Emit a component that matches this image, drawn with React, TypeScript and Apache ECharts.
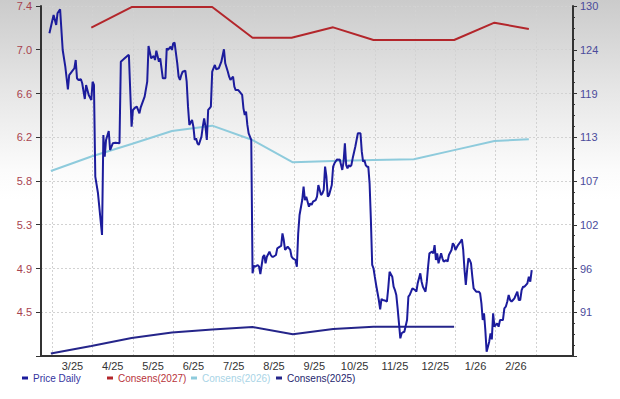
import React, { useEffect, useRef } from "react";
import * as echarts from "echarts";

// ---------- data ----------
const monthLabels = ["3/25", "4/25", "5/25", "6/25", "7/25", "8/25", "9/25", "10/25", "11/25", "12/25", "1/26", "2/26"];
const leftTickLabels = ["", "4.5", "4.9", "5.3", "5.8", "6.2", "6.6", "7.0", "7.4"];
const rightTickLabels = ["", "91", "96", "102", "107", "113", "119", "124", "130"];

const priceDaily: [string, number][] = [
  ["2025-02-27", 126.52], ["2025-03-02", 128.85], ["2025-03-04", 127.58], ["2025-03-05", 129.07], ["2025-03-07", 129.58],
  ["2025-03-09", 124.4], ["2025-03-11", 122.27], ["2025-03-13", 119.39], ["2025-03-14", 121.21], ["2025-03-16", 121.63],
  ["2025-03-18", 122.07], ["2025-03-19", 123.12], ["2025-03-20", 120.79], ["2025-03-21", 120.58], ["2025-03-23", 120.67],
  ["2025-03-24", 120.16], ["2025-03-26", 118.16], ["2025-03-27", 119.94], ["2025-03-28", 119.3], ["2025-03-29", 118.67],
  ["2025-03-31", 118.03], ["2025-04-01", 120.36], ["2025-04-02", 119.94], ["2025-04-03", 108.26], ["2025-04-05", 106.15],
  ["2025-04-08", 100.84], ["2025-04-09", 113.57], ["2025-04-10", 110.81], ["2025-04-11", 112.94], ["2025-04-13", 114.08],
  ["2025-04-14", 111.66], ["2025-04-16", 112.52], ["2025-04-18", 112.59], ["2025-04-21", 112.52], ["2025-04-22", 122.91],
  ["2025-04-24", 123.21], ["2025-04-27", 123.67], ["2025-04-28", 123.76], ["2025-04-30", 114.63], ["2025-05-01", 116.76],
  ["2025-05-03", 117.1], ["2025-05-04", 117.18], ["2025-05-06", 116.34], ["2025-05-07", 117.1], ["2025-05-10", 118.45],
  ["2025-05-12", 120.36], ["2025-05-13", 124.91], ["2025-05-15", 123.34], ["2025-05-17", 123.63], ["2025-05-18", 123.12],
  ["2025-05-19", 124.31], ["2025-05-21", 122.91], ["2025-05-22", 123.34], ["2025-05-24", 120.79], ["2025-05-26", 120.79],
  ["2025-05-27", 124.61], ["2025-05-28", 124.4], ["2025-05-30", 124.82], ["2025-05-31", 124.4], ["2025-06-01", 125.25],
  ["2025-06-02", 125.33], ["2025-06-04", 122.7], ["2025-06-05", 121.0], ["2025-06-06", 120.58], ["2025-06-07", 121.21],
  ["2025-06-08", 121.63], ["2025-06-10", 121.76], ["2025-06-11", 120.36], ["2025-06-12", 117.18], ["2025-06-13", 114.85],
  ["2025-06-15", 115.48], ["2025-06-16", 114.63], ["2025-06-17", 112.94], ["2025-06-18", 113.15], ["2025-06-19", 112.52],
  ["2025-06-20", 112.3], ["2025-06-22", 113.36], ["2025-06-23", 114.63], ["2025-06-24", 115.7], ["2025-06-25", 114.63],
  ["2025-06-26", 112.94], ["2025-06-27", 116.76], ["2025-06-28", 116.97], ["2025-06-29", 117.18], ["2025-06-30", 121.63],
  ["2025-07-02", 122.49], ["2025-07-03", 121.94], ["2025-07-05", 122.07], ["2025-07-07", 122.91], ["2025-07-09", 124.49],
  ["2025-07-10", 122.7], ["2025-07-12", 121.63], ["2025-07-13", 121.0], ["2025-07-14", 120.58], ["2025-07-16", 121.0],
  ["2025-07-17", 119.72], ["2025-07-18", 119.3], ["2025-07-20", 119.3], ["2025-07-21", 119.09], ["2025-07-23", 118.67],
  ["2025-07-24", 116.97], ["2025-07-25", 116.12], ["2025-07-26", 116.54], ["2025-07-27", 114.85], ["2025-07-28", 113.79],
  ["2025-07-30", 112.94], ["2025-07-31", 95.96], ["2025-08-01", 96.93], ["2025-08-02", 96.8], ["2025-08-04", 97.02],
  ["2025-08-05", 96.8], ["2025-08-06", 95.87], ["2025-08-08", 98.07], ["2025-08-09", 98.29], ["2025-08-10", 97.23],
  ["2025-08-11", 98.07], ["2025-08-13", 98.71], ["2025-08-14", 98.29], ["2025-08-15", 98.07], ["2025-08-16", 98.07],
  ["2025-08-18", 98.29], ["2025-08-19", 99.14], ["2025-08-21", 99.35], ["2025-08-22", 99.44], ["2025-08-23", 101.05],
  ["2025-08-24", 100.2], ["2025-08-25", 98.93], ["2025-08-26", 99.14], ["2025-08-27", 99.35], ["2025-08-29", 98.93],
  ["2025-08-30", 98.07], ["2025-08-31", 97.87], ["2025-09-02", 97.65], ["2025-09-03", 96.8], ["2025-09-04", 101.05],
  ["2025-09-05", 103.38], ["2025-09-07", 105.29], ["2025-09-08", 106.99], ["2025-09-09", 105.29], ["2025-09-10", 105.71],
  ["2025-09-12", 104.44], ["2025-09-13", 104.87], ["2025-09-14", 104.66], ["2025-09-15", 105.08], ["2025-09-17", 105.29],
  ["2025-09-18", 105.71], ["2025-09-19", 107.2], ["2025-09-20", 106.57], ["2025-09-21", 105.93], ["2025-09-22", 106.15],
  ["2025-09-23", 106.57], ["2025-09-24", 109.54], ["2025-09-25", 108.26], ["2025-09-26", 105.71], ["2025-09-27", 105.93],
  ["2025-09-28", 106.57], ["2025-09-29", 107.2], ["2025-09-30", 109.54], ["2025-10-01", 109.97], ["2025-10-03", 110.48],
  ["2025-10-04", 110.39], ["2025-10-05", 110.48], ["2025-10-07", 109.12], ["2025-10-08", 110.17], ["2025-10-09", 112.52],
  ["2025-10-10", 109.75], ["2025-10-11", 109.33], ["2025-10-12", 109.75], ["2025-10-13", 109.54], ["2025-10-14", 109.75],
  ["2025-10-15", 110.6], ["2025-10-17", 112.08], ["2025-10-18", 112.94], ["2025-10-19", 113.79], ["2025-10-21", 113.79],
  ["2025-10-22", 111.45], ["2025-10-23", 110.17], ["2025-10-24", 110.39], ["2025-10-25", 109.75], ["2025-10-26", 109.54],
  ["2025-10-27", 109.54], ["2025-10-28", 107.42], ["2025-10-29", 102.75], ["2025-10-30", 97.02], ["2025-10-31", 96.6],
  ["2025-11-01", 95.53], ["2025-11-02", 94.47], ["2025-11-04", 92.56], ["2025-11-05", 91.38], ["2025-11-06", 92.69],
  ["2025-11-07", 92.56], ["2025-11-09", 92.47], ["2025-11-10", 92.34], ["2025-11-11", 94.05], ["2025-11-12", 96.16],
  ["2025-11-14", 95.53], ["2025-11-15", 94.25], ["2025-11-16", 93.83], ["2025-11-17", 93.2], ["2025-11-18", 91.5],
  ["2025-11-19", 89.59], ["2025-11-20", 87.68], ["2025-11-21", 88.32], ["2025-11-22", 88.45], ["2025-11-23", 88.52],
  ["2025-11-25", 90.01], ["2025-11-26", 92.98], ["2025-11-27", 93.2], ["2025-11-28", 93.62], ["2025-11-29", 94.05],
  ["2025-12-01", 93.83], ["2025-12-02", 93.62], ["2025-12-03", 94.69], ["2025-12-05", 95.96], ["2025-12-06", 94.89],
  ["2025-12-07", 94.25], ["2025-12-09", 93.62], ["2025-12-10", 94.89], ["2025-12-11", 96.8], ["2025-12-12", 98.51],
  ["2025-12-14", 98.71], ["2025-12-15", 98.51], ["2025-12-16", 99.56], ["2025-12-17", 97.65], ["2025-12-18", 98.51],
  ["2025-12-19", 97.23], ["2025-12-21", 98.51], ["2025-12-22", 97.87], ["2025-12-23", 97.44], ["2025-12-25", 97.65],
  ["2025-12-26", 97.44], ["2025-12-27", 98.29], ["2025-12-29", 98.93], ["2025-12-30", 99.78], ["2025-12-31", 99.56],
  ["2026-01-01", 98.93], ["2026-01-03", 99.56], ["2026-01-05", 99.98], ["2026-01-06", 100.29], ["2026-01-07", 98.93],
  ["2026-01-08", 96.38], ["2026-01-09", 94.47], ["2026-01-10", 96.38], ["2026-01-11", 97.87], ["2026-01-12", 97.65],
  ["2026-01-13", 97.23], ["2026-01-14", 95.53], ["2026-01-15", 94.05], ["2026-01-17", 93.62], ["2026-01-19", 93.62],
  ["2026-01-20", 93.41], ["2026-01-21", 92.14], ["2026-01-22", 90.01], ["2026-01-23", 90.87], ["2026-01-24", 88.74],
  ["2026-01-25", 85.98], ["2026-01-26", 86.61], ["2026-01-27", 87.25], ["2026-01-28", 88.32], ["2026-01-29", 87.55],
  ["2026-01-30", 90.87], ["2026-01-31", 89.16], ["2026-02-01", 89.38], ["2026-02-02", 89.59], ["2026-02-03", 89.16],
  ["2026-02-04", 90.01], ["2026-02-06", 90.01], ["2026-02-07", 91.5], ["2026-02-08", 91.71], ["2026-02-09", 92.34],
  ["2026-02-10", 93.2], ["2026-02-11", 92.56], ["2026-02-12", 92.34], ["2026-02-13", 92.56], ["2026-02-14", 92.78],
  ["2026-02-16", 93.62], ["2026-02-17", 92.56], ["2026-02-18", 92.56], ["2026-02-19", 93.83], ["2026-02-20", 94.25],
  ["2026-02-21", 94.25], ["2026-02-23", 94.69], ["2026-02-24", 95.53], ["2026-02-25", 94.89], ["2026-02-26", 96.38],
];

const consens2027: [string, number][] = [
  ["2025-03-31", 7.195], ["2025-04-30", 7.39], ["2025-05-31", 7.39], ["2025-06-30", 7.39], ["2025-07-31", 7.1],
  ["2025-08-30", 7.1], ["2025-09-30", 7.198], ["2025-10-31", 7.078], ["2025-11-30", 7.078], ["2025-12-31", 7.078],
  ["2026-01-31", 7.242], ["2026-02-24", 7.182],
];

const consens2026: [string, number][] = [
  ["2025-02-28", 5.838], ["2025-03-31", 5.975], ["2025-04-30", 6.093], ["2025-05-31", 6.216], ["2025-06-30", 6.267],
  ["2025-07-31", 6.131], ["2025-08-31", 5.92], ["2025-09-30", 5.932], ["2025-10-31", 5.942], ["2025-11-30", 5.948],
  ["2025-12-31", 6.035], ["2026-01-31", 6.122], ["2026-02-24", 6.138],
];

const consens2025: [string, number][] = [
  ["2025-02-28", 4.11], ["2025-03-31", 4.181], ["2025-04-30", 4.256], ["2025-05-31", 4.308], ["2025-06-30", 4.337],
  ["2025-07-31", 4.36], ["2025-08-31", 4.291], ["2025-09-30", 4.342], ["2025-10-31", 4.363], ["2025-11-30", 4.363],
  ["2025-12-31", 4.363],
];

// ---------- scale settings ----------
const LEFT_MAX = 7.4;
const LEFT_STEP = (7.4 - 4.5) / 7;
const LEFT_MIN = LEFT_MAX - 8 * LEFT_STEP;
const RIGHT_MAX = 130;
const RIGHT_STEP = (130 - 91) / 7;
const RIGHT_MIN = RIGHT_MAX - 8 * RIGHT_STEP;
const X_MIN = -0.2803;
const X_MAX = 12.917;

// x position in "month units": each calendar month has equal width (0 = 1 Mar 2025)
function monthPos(s: string): number {
  const [y, m, d] = s.split("-").map(Number);
  const idx = (y - 2025) * 12 + (m - 3);
  const dim = new Date(y, m, 0).getDate();
  return idx + (d - 1) / dim;
}
const toXY = (arr: [string, number][]) => arr.map(([d, v]) => [monthPos(d), v]);

const FONT = "'Liberation Sans', Arial, sans-serif";
const GRID_LINE = { color: "#d2d2d2", type: [2, 2] as number[], width: 1 };

export default function App() {
  const ref = useRef<HTMLDivElement>(null);

  useEffect(() => {
    if (!ref.current) return;
    const chart = echarts.init(ref.current, undefined, { renderer: "svg" });

    const legend = (name: string, left: number, color: string) => ({
      data: [name],
      left,
      top: 373,
      orient: "horizontal",
      icon: "rect",
      itemWidth: 6,
      itemHeight: 3,
      selectedMode: false,
      padding: 0,
      textStyle: { color, fontSize: 10, lineHeight: 10, fontFamily: FONT },
    });

    chart.setOption({
      animation: false,
      backgroundColor: "transparent",
      textStyle: { fontFamily: FONT },
      grid: { left: 41, right: 47, top: 6, bottom: 43, containLabel: false },
      legend: [
        legend("Price Daily", 22, "#3434a0"),
        legend("Consens(2027)", 107, "#b8333a"),
        legend("Consens(2026)", 191, "#a9d4e6"),
        legend("Consens(2025)", 276, "#26266e"),
      ],
      xAxis: {
        type: "value",
        min: X_MIN,
        max: X_MAX,
        axisLine: { show: true, onZero: false, lineStyle: { color: "#333", width: 2 } },
        axisTick: { show: false, customValues: monthLabels.map((_, i) => i).concat([12]) },
        axisLabel: {
          customValues: monthLabels.map((_, i) => i + 0.5),
          formatter: (v: number) => monthLabels[Math.floor(v)] ?? "",
          color: "#333",
          fontSize: 11,
          lineHeight: 11,
          margin: 4,
          fontFamily: FONT,
        },
        splitLine: { show: true, lineStyle: GRID_LINE },
      },
      yAxis: [
        {
          type: "value",
          position: "left",
          min: LEFT_MIN,
          max: LEFT_MAX,
          interval: LEFT_STEP,
          axisLine: { show: true, onZero: false, lineStyle: { color: "#333", width: 2 } },
          axisTick: { show: true, length: 5, lineStyle: { color: "#333", width: 1 } },
          axisLabel: {
            color: "#a8434f",
            fontSize: 11,
            margin: 9,
            fontFamily: FONT,
            formatter: (v: number) => leftTickLabels[Math.round((v - LEFT_MIN) / LEFT_STEP)] ?? "",
          },
          splitLine: { show: true, lineStyle: GRID_LINE },
        },
        {
          type: "value",
          position: "right",
          min: RIGHT_MIN,
          max: RIGHT_MAX,
          interval: RIGHT_STEP,
          axisLine: { show: true, onZero: false, lineStyle: { color: "#333", width: 2 } },
          axisTick: { show: true, length: 4, lineStyle: { color: "#333", width: 1 } },
          minorTick: { show: true, splitNumber: 4, length: 2, lineStyle: { color: "#333", width: 1 } },
          axisLabel: {
            color: "#4b4b9b",
            fontSize: 11,
            margin: 7,
            fontFamily: FONT,
            formatter: (v: number) => rightTickLabels[Math.round((v - RIGHT_MIN) / RIGHT_STEP)] ?? "",
          },
          splitLine: { show: false },
        },
      ],
      series: [
        {
          name: "Consens(2027)",
          type: "line",
          yAxisIndex: 0,
          data: toXY(consens2027),
          showSymbol: false,
          symbol: "none",
          color: "#b3262b",
          lineStyle: { color: "#b3262b", width: 2 },
          z: 2,
        },
        {
          name: "Consens(2026)",
          type: "line",
          yAxisIndex: 0,
          data: toXY(consens2026),
          showSymbol: false,
          symbol: "none",
          color: "#8ecbdc",
          lineStyle: { color: "#8ecbdc", width: 2 },
          z: 2,
        },
        {
          name: "Consens(2025)",
          type: "line",
          yAxisIndex: 0,
          data: toXY(consens2025),
          showSymbol: false,
          symbol: "none",
          color: "#25258a",
          lineStyle: { color: "#25258a", width: 2 },
          z: 2,
        },
        {
          name: "Price Daily",
          type: "line",
          yAxisIndex: 1,
          data: toXY(priceDaily),
          showSymbol: false,
          symbol: "none",
          color: "#1c1c9c",
          lineStyle: { color: "#1c1c9c", width: 2 },
          z: 3,
        },
      ],
    });

    return () => chart.dispose();
  }, []);

  return (
    <div
      style={{
        position: "fixed",
        left: 0,
        top: 0,
        width: 620,
        height: 399,
        background: "linear-gradient(to bottom, #cbcbcb 0px, #e6e6e6 90px, #fbfbfb 170px, #ffffff 200px, #ffffff 399px)",
      }}
    >
      <div ref={ref} style={{ width: 620, height: 399 }} />
    </div>
  );
}
